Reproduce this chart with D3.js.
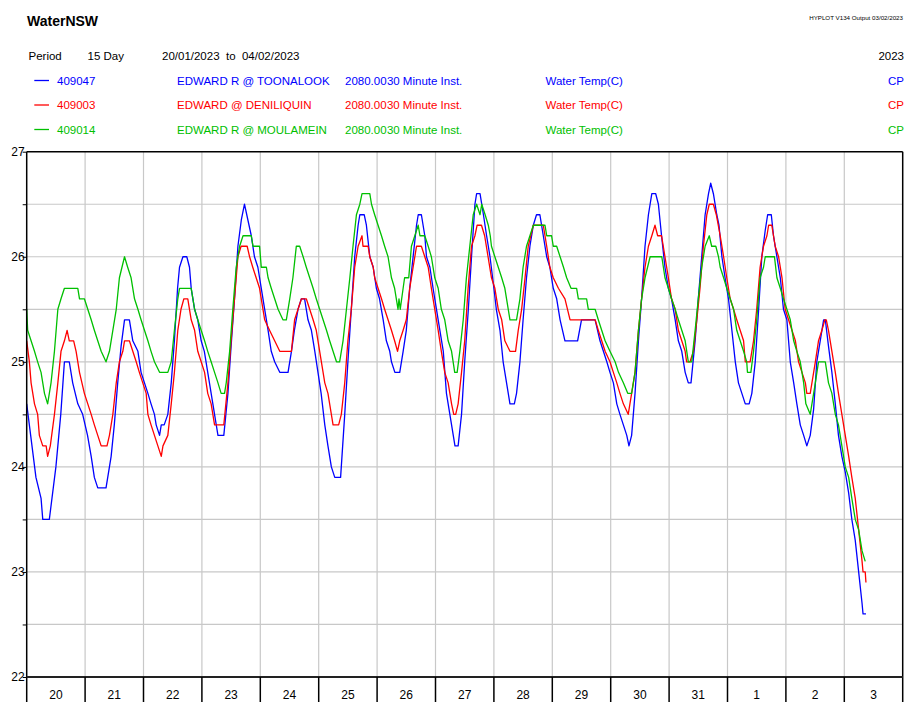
<!DOCTYPE html>
<html>
<head>
<meta charset="utf-8">
<script src="https://cdn.jsdelivr.net/npm/d3@7"></script>
<style>
html,body{margin:0;padding:0;background:#fff;}
svg{display:block;font-family:"Liberation Sans",Arial,sans-serif;}
</style>
</head>
<body>
<div id="chart"></div>
<script>
// ---- DATA (hours since 20/01/2023 00:00, water temperature °C) ----
const dayLabels = ["20","21","22","23","24","25","26","27","28","29","30","31","1","2","3"];
const yTicks = [22,22.5,23,23.5,24,24.5,25,25.5,26,26.5,27];

const seriesCodes = ["409047","409003","409014"];
const seriesNames = ["EDWARD R @ TOONALOOK","EDWARD @ DENILIQUIN","EDWARD R @ MOULAMEIN"];
const seriesDatum = ["2080.00","2080.00","2080.00"];
const seriesInterval = ["30 Minute Inst.","30 Minute Inst.","30 Minute Inst."];
const seriesVariable = ["Water Temp(C)","Water Temp(C)","Water Temp(C)"];
const seriesQuality = ["CP","CP","CP"];
const seriesColors = ["#0000ff","#ff0000","#00c000"];

const toonalook = [[0,24.6],[3.8,23.9],[5.9,23.7],[6.6,23.5],[9.3,23.5],[12,24.0],[14,24.5],[15.5,25.0],[17.5,25.0],[18.9,24.8],[21,24.6],[23,24.5],[25,24.3],[26.5,24.1],[27.8,23.9],[29.2,23.8],[32.6,23.8],[34.7,24.1],[36,24.4],[37.4,24.8],[38.8,25.15],[40.2,25.4],[42.2,25.4],[43.6,25.2],[45.7,25.1],[47,24.9],[48.4,24.8],[49.8,24.7],[51.1,24.6],[52.5,24.5],[53.2,24.4],[54.6,24.3],[55.3,24.4],[56.5,24.4],[58,24.5],[59.4,24.8],[60.7,25.2],[62,25.7],[62.8,25.9],[64.2,26.0],[65.8,26.0],[66.9,25.9],[67.6,25.7],[69,25.5],[70.3,25.4],[71.7,25.2],[73,25.1],[74.4,24.9],[75.8,24.7],[77.2,24.5],[78.6,24.3],[81,24.3],[82.7,24.7],[84,25.15],[85.4,25.6],[86.8,26.1],[88.2,26.35],[89.5,26.5],[90.9,26.35],[92.3,26.2],[93.6,26.0],[95,25.9],[96.4,25.7],[97.8,25.5],[99.2,25.3],[100.5,25.1],[101.9,25.0],[104,24.9],[107.4,24.9],[108.8,25.1],[110,25.3],[111.5,25.5],[112.9,25.6],[114.2,25.6],[115.6,25.4],[117,25.3],[118.4,25.1],[119.7,24.9],[121,24.7],[122.5,24.4],[123.8,24.2],[125.2,24.0],[126.6,23.9],[129,23.9],[130.7,24.5],[132,25.0],[133.4,25.5],[134.8,26.0],[136.2,26.3],[136.9,26.4],[138.7,26.4],[139.6,26.3],[141,26.0],[142.4,25.9],[143.7,25.7],[145,25.6],[146.5,25.4],[147.8,25.2],[149.2,25.1],[149.9,25.0],[151.3,24.9],[153.3,24.9],[154.7,25.1],[156,25.3],[157.4,25.7],[158.8,26.0],[160.2,26.3],[160.9,26.4],[162.2,26.4],[163.6,26.2],[164.3,26.0],[165.7,25.9],[167,25.7],[168.4,25.5],[169.8,25.3],[171.2,25.1],[172.5,24.7],[173.9,24.5],[175.3,24.3],[176,24.2],[177.3,24.2],[178.7,24.5],[180,25.0],[181.5,25.5],[182.8,26.0],[184.2,26.5],[184.9,26.6],[186.3,26.6],[187.7,26.4],[189,26.2],[190.4,26.0],[192,25.7],[193,25.5],[194.5,25.3],[195.8,25.0],[197.2,24.8],[198.6,24.6],[200.4,24.6],[201.3,24.7],[202.7,25.0],[204,25.4],[205.4,25.8],[206.8,26.1],[208.2,26.3],[209.5,26.4],[210.9,26.4],[212.3,26.2],[213.7,26.0],[215,25.9],[216.4,25.7],[217.8,25.6],[219.2,25.4],[221.2,25.2],[226.4,25.2],[228,25.4],[233.6,25.4],[235.6,25.2],[237,25.1],[238.4,25.0],[239.7,24.9],[241.1,24.8],[242.5,24.6],[243.8,24.5],[245.2,24.4],[246.6,24.3],[247.5,24.2],[248.6,24.3],[250,24.7],[251.4,25.2],[252.7,25.6],[254.1,26.1],[255.5,26.4],[256.9,26.6],[258.5,26.6],[259.6,26.5],[260.9,26.2],[262.3,25.9],[263.7,25.7],[265,25.6],[266.5,25.4],[267.8,25.2],[269.2,25.1],[270.6,24.9],[271.9,24.8],[273,24.8],[274.7,25.2],[276,25.6],[277.4,26.0],[278.8,26.4],[280.2,26.6],[281.1,26.7],[282.2,26.6],[283.6,26.4],[284.5,26.3],[285.7,26.0],[287,25.8],[288.4,25.6],[289.8,25.3],[291.2,25.0],[292.5,24.8],[293.9,24.7],[295.3,24.6],[296.9,24.6],[298,24.7],[299.4,25.0],[300.8,25.5],[302.1,26.0],[303.5,26.25],[304.5,26.4],[306,26.4],[306.9,26.2],[308.3,26.0],[309.7,25.8],[311,25.5],[312.4,25.4],[313.8,25.0],[315.2,24.8],[316.5,24.6],[317.9,24.4],[319.3,24.3],[320.6,24.2],[322,24.3],[323.4,24.55],[324.7,25.0],[326.1,25.2],[327.5,25.4],[328.2,25.4],[329.5,25.15],[330.9,24.9],[332.3,24.6],[333.6,24.3],[335,24.1],[336.4,23.95],[337.8,23.75],[339.1,23.5],[340.5,23.3],[341.9,23.0],[343.3,22.7],[343.7,22.6],[344.9,22.6]];

const deniliquin = [[0,25.2],[1.1,25.0],[1.8,24.8],[3.2,24.6],[4.5,24.5],[5.2,24.3],[6.6,24.2],[8,24.2],[8.6,24.1],[9.7,24.2],[11.4,24.5],[12.8,24.8],[14.1,25.1],[15.5,25.2],[16.6,25.3],[17.5,25.2],[19.3,25.2],[20.3,25.1],[21.7,24.9],[23.7,24.7],[25.1,24.6],[26.5,24.5],[27.8,24.4],[29.2,24.3],[30.6,24.2],[33,24.2],[34,24.3],[35.4,24.5],[36.8,24.8],[38.1,25.0],[39.5,25.1],[40.2,25.2],[42.2,25.2],[43.6,25.1],[45,25.0],[46.3,24.9],[47.7,24.8],[49.1,24.7],[49.8,24.5],[51.1,24.4],[52.5,24.3],[53.9,24.2],[55.3,24.1],[56,24.2],[58,24.3],[59.4,24.6],[60.7,24.9],[62.1,25.3],[63.4,25.5],[64.6,25.6],[66.2,25.6],[67.6,25.4],[69,25.3],[70.3,25.1],[71.7,25.0],[73.1,24.9],[74.4,24.7],[75.8,24.6],[77.2,24.4],[81,24.4],[82.7,24.8],[84,25.2],[85.4,25.6],[86.8,26.0],[88.1,26.1],[90.6,26.1],[91.6,26.0],[92.9,25.9],[94.3,25.8],[95.7,25.7],[97.1,25.5],[97.8,25.4],[99.8,25.3],[101.9,25.2],[104,25.1],[108.8,25.1],[110.1,25.4],[111.5,25.5],[112.9,25.6],[114.9,25.6],[116.3,25.5],[117.7,25.4],[119,25.3],[120.4,25.1],[121.8,24.9],[122.5,24.8],[123.8,24.7],[125.2,24.5],[125.9,24.4],[128.2,24.4],[129.3,24.5],[130.7,24.8],[132,25.2],[133.4,25.5],[134.8,25.9],[136.2,26.1],[137.8,26.2],[138.2,26.1],[140.3,26.1],[141,26.0],[142.4,25.9],[143,25.8],[144.4,25.7],[145.8,25.6],[147.1,25.5],[148.5,25.4],[149.9,25.3],[151.2,25.2],[152.4,25.1],[153.3,25.2],[154.7,25.3],[156,25.4],[157.4,25.7],[158.8,25.9],[160.2,26.1],[162.2,26.1],[163.6,26.0],[165,25.9],[166.3,25.7],[167.7,25.5],[169.1,25.3],[170.4,25.1],[171.8,24.9],[173.2,24.8],[174.6,24.6],[175.5,24.5],[176.3,24.5],[177.3,24.6],[178.7,24.9],[180,25.2],[181.4,25.7],[182.8,26.1],[184.2,26.2],[185.1,26.3],[186.9,26.3],[188.2,26.2],[189.6,26.0],[191,25.8],[192.4,25.7],[193.8,25.5],[195.2,25.4],[196.5,25.2],[198.6,25.1],[200.9,25.1],[202,25.3],[203.4,25.5],[204.8,25.8],[206.1,26.1],[208.2,26.3],[212.3,26.3],[213.7,26.1],[215,25.9],[216.4,25.8],[218.5,25.7],[221.2,25.6],[223.3,25.4],[233.6,25.4],[234.9,25.3],[236.3,25.2],[237.7,25.1],[239.7,25.0],[241.1,24.9],[242.5,24.8],[243.8,24.7],[245.2,24.6],[247.2,24.5],[248.6,24.7],[250,24.9],[251.4,25.3],[252.7,25.6],[254.1,25.9],[255.5,26.1],[256.9,26.2],[258.2,26.3],[259.3,26.2],[260.9,26.2],[262.3,26.0],[263.7,25.8],[265,25.6],[266.5,25.5],[267.8,25.3],[269.2,25.2],[270.6,25.1],[271.2,25.0],[272.6,25.0],[274,25.1],[275.4,25.4],[276.7,25.7],[278.1,26.1],[279.5,26.4],[280.5,26.5],[282.2,26.5],[283.4,26.4],[285,26.2],[286.4,26.0],[287.7,25.8],[289.1,25.6],[290.5,25.5],[291.8,25.4],[293.2,25.3],[294.6,25.2],[295.3,25.0],[297.3,25.0],[298.7,25.2],[300,25.5],[301.4,25.9],[302.8,26.1],[304.2,26.2],[304.9,26.3],[306.2,26.3],[307.6,26.1],[309,26.0],[310.4,25.8],[311.7,25.5],[313.1,25.4],[314.5,25.3],[315.9,25.2],[317.2,25.0],[318.6,24.9],[320,24.8],[320.6,24.7],[322,24.7],[322.7,24.8],[324.1,25.0],[325.4,25.2],[326.8,25.3],[328,25.4],[328.6,25.4],[329.5,25.3],[330.9,25.1],[332.3,24.9],[333.6,24.7],[335,24.5],[336.4,24.3],[337.8,24.1],[339.1,23.9],[340.5,23.7],[341.9,23.4],[343.3,23.1],[343.7,23.0],[344.6,23.0],[344.9,22.9]];

const moulamein = [[0,25.5],[0.4,25.3],[1.8,25.2],[3.2,25.1],[4.5,25.0],[5.9,24.9],[7.3,24.7],[8.6,24.6],[10,24.8],[11.4,25.1],[12.8,25.5],[14.1,25.6],[15.5,25.7],[21,25.7],[21.7,25.6],[23.7,25.6],[25.1,25.5],[26.5,25.4],[27.8,25.3],[29.2,25.2],[30.6,25.1],[32.6,25.0],[34,25.1],[35.4,25.3],[36.8,25.5],[38.1,25.8],[40.2,26.0],[41.5,25.9],[42.9,25.8],[44.3,25.6],[45.7,25.5],[47,25.4],[48.4,25.3],[49.8,25.2],[51.1,25.1],[52.5,25.0],[54.6,24.9],[58,24.9],[59.4,25.0],[60.7,25.3],[62.1,25.6],[62.8,25.7],[67.6,25.7],[69,25.5],[70.3,25.4],[71.7,25.3],[73.1,25.2],[74.4,25.1],[75.8,25.0],[77.2,24.9],[78.6,24.8],[79.9,24.7],[81.3,24.7],[82,24.8],[83.4,25.1],[84.7,25.5],[86.1,25.9],[87.5,26.1],[88.9,26.2],[92.3,26.2],[93,26.1],[95.7,26.1],[96.4,25.9],[98.5,25.9],[99.2,25.8],[100.5,25.7],[101.9,25.6],[103.3,25.5],[105.3,25.4],[106.7,25.4],[108.1,25.6],[109.4,25.8],[110.8,26.1],[112.2,26.1],[113.6,26.0],[114.9,25.9],[116.3,25.8],[117.7,25.7],[119,25.6],[120.4,25.5],[121.8,25.4],[123.2,25.3],[124.5,25.2],[125.9,25.1],[127.3,25.0],[128.6,25.0],[130,25.2],[131.4,25.5],[132.8,25.8],[134.1,26.1],[135.5,26.4],[136.9,26.5],[137.8,26.6],[141,26.6],[141.7,26.5],[143,26.4],[144.4,26.3],[145.8,26.2],[147.1,26.1],[148.5,26.0],[149.9,25.8],[151.2,25.7],[152.6,25.5],[153,25.6],[153.5,25.5],[154.7,25.7],[155.3,25.8],[157,25.8],[158.1,26.1],[159.5,26.2],[160.9,26.3],[161.6,26.2],[163.6,26.2],[165,26.1],[166.3,26.0],[167.7,25.8],[169.1,25.7],[170.4,25.5],[171.8,25.4],[173.2,25.2],[174.6,25.1],[175.9,24.9],[176.9,24.9],[178,25.1],[179.4,25.4],[180.7,25.8],[182.1,26.1],[183.5,26.4],[184.9,26.5],[186.3,26.4],[187,26.5],[188.4,26.4],[189.7,26.3],[190.5,26.2],[191,26.1],[192.4,26.0],[193.8,25.9],[195.2,25.8],[196.5,25.7],[197.2,25.6],[198.6,25.4],[201.3,25.4],[202.7,25.6],[204,25.9],[205.4,26.1],[206.8,26.2],[208.2,26.3],[213,26.3],[213.7,26.2],[215.7,26.2],[216.4,26.1],[217.8,26.1],[219.2,26.0],[220.6,25.9],[221.9,25.8],[223.7,25.7],[226,25.7],[226.7,25.6],[230.1,25.6],[230.8,25.5],[233.6,25.5],[234.9,25.4],[236.3,25.3],[237.7,25.2],[239.7,25.1],[241.8,25.0],[243.2,24.9],[245.2,24.8],[247,24.7],[248.6,24.7],[250,24.9],[251.4,25.3],[252.7,25.6],[254.1,25.8],[256.2,26.0],[261,26.0],[262.3,25.8],[263.7,25.7],[265,25.6],[266.5,25.5],[267.8,25.4],[269.2,25.3],[270.6,25.2],[271.9,25.0],[273.3,25.0],[274.7,25.3],[276,25.6],[277.4,25.9],[278.8,26.1],[280.5,26.2],[281.5,26.1],[283.2,26.1],[284.3,26.0],[285,25.9],[286.4,25.8],[287.7,25.7],[289.1,25.6],[290.5,25.5],[291.8,25.3],[293.2,25.2],[294.6,25.1],[295.9,25.0],[296.2,24.9],[297.6,24.9],[298.7,25.1],[300,25.4],[301.4,25.8],[302.8,25.9],[303.5,26.0],[307.3,26.0],[308.3,25.8],[309.7,25.7],[311,25.6],[312.4,25.5],[313.8,25.4],[315.2,25.2],[316.5,25.1],[317.9,25.0],[319.3,24.8],[320.2,24.6],[322,24.5],[322.7,24.6],[324.1,24.8],[325.4,25.0],[328.2,25.0],[329.5,24.8],[330.9,24.7],[332.3,24.5],[333.6,24.4],[335,24.2],[336.4,24.0],[337.8,23.9],[339.1,23.7],[340.5,23.5],[341.9,23.4],[343.3,23.2],[344.6,23.1]];

const seriesData = [toonalook, deniliquin, moulamein];

// ---- CHART ----
const W = 909, H = 702;
const plotL = 26.7, plotR = 902.7, plotT = 151.7, plotB = 677;
const fontFam = '"Liberation Sans", Arial, sans-serif';

const svg = d3.select("#chart").append("svg")
  .attr("width", W).attr("height", H);

const x = d3.scaleLinear().domain([0, dayLabels.length * 24]).range([plotL, plotR]);
const y = d3.scaleLinear().domain([22, 27]).range([plotB, plotT]);

// Header
svg.append("text").attr("x", 27).attr("y", 25.5)
  .attr("font-size", 14).attr("font-weight", "bold").attr("fill", "#000").text("WaterNSW");
svg.append("text").attr("x", 903).attr("y", 19.5).attr("text-anchor", "end")
  .attr("font-size", 6.2).attr("fill", "#000").text("HYPLOT V134  Output 03/02/2023");

const hdr = svg.append("g").attr("font-size", 11.5).attr("fill", "#000");
hdr.append("text").attr("x", 28.5).attr("y", 60).text("Period");
hdr.append("text").attr("x", 87.5).attr("y", 60).text("15 Day");
hdr.append("text").attr("x", 162).attr("y", 60).style("white-space", "pre").text("20/01/2023  to  04/02/2023");
hdr.append("text").attr("x", 904).attr("y", 60).attr("text-anchor", "end").text("2023");

// Legend rows
const legY = [80.5, 105, 129.5];
seriesCodes.forEach((code, i) => {
  const g = svg.append("g").attr("fill", seriesColors[i]).attr("font-size", 11.5);
  g.append("line").attr("x1", 34.3).attr("x2", 49).attr("y1", legY[i]).attr("y2", legY[i])
    .attr("stroke", seriesColors[i]).attr("stroke-width", 1.3);
  g.append("text").attr("x", 57).attr("y", legY[i] + 4).text(code);
  g.append("text").attr("x", 177).attr("y", legY[i] + 4).text(seriesNames[i]);
  const datum = g.append("text").attr("x", 345).attr("y", legY[i] + 4).text(seriesDatum[i]);
  const dw = datum.node().getComputedTextLength();
  g.append("text").attr("x", 345 + dw + 0.3).attr("y", legY[i] + 4).text(seriesInterval[i]);
  g.append("text").attr("x", 545.5).attr("y", legY[i] + 4).text(seriesVariable[i]);
  g.append("text").attr("x", 904).attr("y", legY[i] + 4).attr("text-anchor", "end").text(seriesQuality[i]);
});

// Grid
const grid = svg.append("g").attr("stroke", "#c8c8c8").attr("stroke-width", 1.2);
grid.selectAll("line.h").data(yTicks.filter(v => v > 22 && v < 27)).join("line")
  .attr("class", "h")
  .attr("x1", plotL).attr("x2", plotR)
  .attr("y1", d => y(d)).attr("y2", d => y(d));
grid.selectAll("line.v").data(d3.range(1, dayLabels.length)).join("line")
  .attr("class", "v")
  .attr("x1", d => x(d * 24)).attr("x2", d => x(d * 24))
  .attr("y1", plotT).attr("y2", plotB);

// Series lines
const line = d3.line().x(d => x(d[0])).y(d => y(d[1]));
seriesData.forEach((data, i) => {
  svg.append("path").datum(data)
    .attr("fill", "none").attr("stroke", seriesColors[i])
    .attr("stroke-width", 1.3).attr("stroke-linejoin", "round")
    .attr("d", line);
});

// Frame
svg.append("line").attr("x1", plotL).attr("x2", plotR).attr("y1", plotT).attr("y2", plotT)
  .attr("stroke", "#000").attr("stroke-width", 1.5);
svg.append("line").attr("x1", plotR).attr("x2", plotR).attr("y1", plotT).attr("y2", H)
  .attr("stroke", "#000").attr("stroke-width", 1.5);

// Y axis
const yAxis = d3.axisLeft(y).tickValues(yTicks).tickSize(4).tickPadding(-2)
  .tickFormat(d => Number.isInteger(d) ? d3.format("d")(d) : "");
const ya = svg.append("g").attr("transform", `translate(${plotL},0)`).call(yAxis);
ya.select(".domain").attr("stroke", "#000").attr("stroke-width", 1.5).attr("d", `M0,${plotT}V${H}`);
ya.selectAll(".tick line").attr("stroke", "#000");
ya.selectAll(".tick text").attr("font-family", fontFam).attr("font-size", 12).attr("fill", "#000");

// X axis band
const xa = svg.append("g");
xa.append("line").attr("x1", plotL).attr("x2", plotR).attr("y1", plotB).attr("y2", plotB)
  .attr("stroke", "#222").attr("stroke-width", 1.8);
xa.selectAll("line.sep").data(d3.range(1, dayLabels.length)).join("line")
  .attr("class", "sep")
  .attr("x1", d => x(d * 24)).attr("x2", d => x(d * 24))
  .attr("y1", plotB).attr("y2", H)
  .attr("stroke", "#000").attr("stroke-width", 1.5);
xa.selectAll("text").data(dayLabels).join("text")
  .attr("x", (d, i) => x(i * 24 + 12))
  .attr("y", 699.3)
  .attr("text-anchor", "middle")
  .attr("font-size", 12).attr("fill", "#000")
  .text(d => d);
</script>
</body>
</html>
